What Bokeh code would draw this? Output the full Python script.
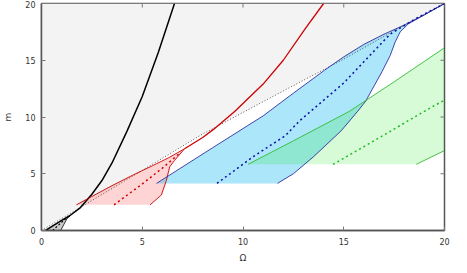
import numpy as np
from bokeh.plotting import figure
from bokeh.models import Range1d, FixedTicker
from bokeh.embed import file_html
from bokeh.resources import INLINE

# ---- data ----
ticks = [0, 5, 10, 15, 20]

# dotted reference line
dot_x = [0, 2, 5, 8, 10, 12, 15, 17.5, 20]
dot_y = [0, 2.1, 5.3, 8.5, 10.4, 12.3, 15.1, 17.6, 20]

# black (first) branch
blk_x = [0.2, 0.6, 1.0, 1.4, 1.9, 2.5, 3.0, 3.5, 4.25, 5.0, 5.8, 6.6]
blk_y = [0.0, 0.45, 0.9, 1.3, 1.97, 3.2, 4.4, 5.95, 8.78, 11.8, 15.7, 20.0]
blk_right_x = [0.95, 1.1, 1.25, 1.4]
blk_right_y = [0.0, 0.5, 1.0, 1.3]
blk_dash_x = [0.55, 1.3]
blk_dash_y = [0.0, 1.2]

# red (second) branch
red_up_x = [1.73, 2.5, 3.5, 4.5, 5.5, 6.3, 7.1]
red_up_y = [2.26, 3.0, 3.95, 4.85, 5.7, 6.4, 7.2]
red_curve_x = [7.1, 8.0, 8.55, 9.6, 11.0, 12.0, 13.1, 14.0]
red_curve_y = [7.2, 8.2, 8.93, 10.5, 12.9, 15.0, 17.8, 20.0]
red_right_x = [5.39, 5.95, 6.2, 6.36, 6.6, 7.1]
red_right_y = [2.26, 3.13, 4.43, 5.6, 6.17, 7.2]
red_dash_x = [3.6, 5.0, 6.0, 6.92]
red_dash_y = [2.26, 4.1, 5.5, 6.9]

# blue (third) branch
blue_up_x = [5.71, 8.5, 11.0, 12.5, 14.06, 15.0, 16.0, 17.0, 18.0, 19.0, 20.0]
blue_up_y = [4.15, 7.3, 10.1, 12.1, 14.14, 15.3, 16.4, 17.3, 18.1, 19.0, 20.0]
blue_right_x = [11.71, 12.5, 13.5, 14.87, 15.69, 16.09, 16.9, 17.3, 17.55, 17.8, 18.2, 19.0, 20.0]
blue_right_y = [4.15, 5.0, 6.5, 8.78, 10.5, 11.4, 14.0, 15.4, 16.6, 17.5, 18.2, 19.0, 20.0]
blue_dash_x = [8.71, 10.5, 12.1, 12.8, 15.0, 17.3, 18.5, 20.0]
blue_dash_y = [4.15, 6.5, 8.35, 9.65, 13.0, 17.3, 18.6, 20.0]

# green (fourth) branch
green_up_x = [10.25, 12.5, 15.28, 17.5, 20.0]
green_up_y = [5.83, 7.9, 10.5, 13.1, 16.1]
green_right_x = [18.6, 20.0]
green_right_y = [5.83, 7.04]
green_dash_x = [14.47, 16.5, 19.0, 20.0]
green_dash_y = [5.83, 7.9, 10.5, 11.5]

# ---- figure ----
p = figure(width=455, height=265, x_range=Range1d(0, 20), y_range=Range1d(0, 20),
           output_backend="svg", toolbar_location=None,
           min_border_left=33, min_border_right=11, min_border_top=3, min_border_bottom=32)
p.grid.visible = False
p.background_fill_color = "white"
p.outline_line_color = "#555555"
p.outline_line_width = 1.5

# gray region above the dotted line
p.patch(dot_x + [20, 0], dot_y + [20, 20], fill_color="#f3f3f3", line_color=None)

# dark first region
p.patch(blk_x[:4] + blk_right_x[::-1], blk_y[:4] + blk_right_y[::-1],
        fill_color="#000000", fill_alpha=0.2, line_color=None)

# red region
p.patch(red_up_x + red_right_x[::-1], red_up_y + red_right_y[::-1],
        fill_color="#ff0000", fill_alpha=0.17, line_color=None)

# blue region
p.patch(blue_up_x + blue_right_x[::-1], blue_up_y + blue_right_y[::-1],
        fill_color="#00b4f0", fill_alpha=0.33, line_color=None)

# green region
p.patch(green_up_x + green_right_x[::-1], green_up_y + green_right_y[::-1],
        fill_color="#00e600", fill_alpha=0.16, line_color=None)

# dotted line
p.line(dot_x, dot_y, line_color="#555555", line_width=1, line_dash="1 2")

# black lines
p.line(blk_x, blk_y, line_color="black", line_width=1.5)
p.line(blk_right_x, blk_right_y, line_color="black", line_width=0.8)
p.line(blk_dash_x, blk_dash_y, line_color="black", line_width=1.2, line_dash="2 2")

# red lines
p.line(red_up_x, red_up_y, line_color="#cc0000", line_width=0.9)
p.line(red_curve_x, red_curve_y, line_color="#cc0000", line_width=1.3)
p.line(red_right_x, red_right_y, line_color="#cc0000", line_width=0.9)
p.line(red_dash_x, red_dash_y, line_color="#cc0000", line_width=1.5, line_dash="2 3")

# blue lines
p.line(blue_up_x, blue_up_y, line_color="#3030a0", line_width=0.9)
p.line(blue_right_x, blue_right_y, line_color="#3030a0", line_width=0.9)
p.line(blue_dash_x, blue_dash_y, line_color="#1010a0", line_width=1.5, line_dash="2 3")

# green lines
p.line(green_up_x, green_up_y, line_color="#33bb33", line_width=0.9)
p.line(green_right_x, green_right_y, line_color="#33bb33", line_width=0.9)
p.line(green_dash_x, green_dash_y, line_color="#22bb22", line_width=1.5, line_dash="2 3")

# mirrored inward ticks on top and right edges (half outside is clipped by the frame)
p.scatter(ticks, [20] * len(ticks), marker="dash", size=8, angle=np.pi / 2,
          line_color="#777777", line_width=1)
p.scatter([20] * len(ticks), ticks, marker="dash", size=8, angle=0,
          line_color="#777777", line_width=1)

# axes
for ax in (p.xaxis[0], p.yaxis[0]):
    ax.ticker = FixedTicker(ticks=ticks)
    ax.minor_tick_line_color = None
    ax.major_tick_in = 4
    ax.major_tick_out = 0
    ax.axis_line_color = "#555555"
    ax.axis_line_width = 1.5
    ax.major_tick_line_color = "#777777"
    ax.major_label_text_font = "DejaVu Sans"
    ax.major_label_text_font_size = "8px"
    ax.major_label_text_color = "#333333"
    ax.axis_label_text_font = "DejaVu Sans"
    ax.axis_label_text_font_size = "9px"
    ax.axis_label_text_font_style = "normal"
    ax.axis_label_text_color = "#333333"

p.xaxis.axis_label = "Ω"
p.yaxis.axis_label = "m"
p.xaxis.major_label_standoff = 7
p.xaxis.axis_label_standoff = 5
p.yaxis.major_label_standoff = 6
p.yaxis.axis_label_standoff = 9

open("out.html", "w").write(file_html(p, INLINE))
